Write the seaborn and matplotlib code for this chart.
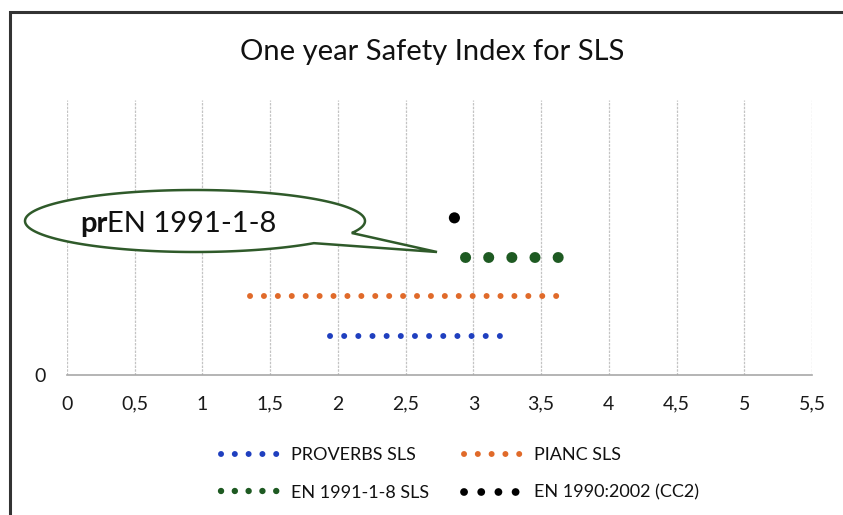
import numpy as np
import pandas as pd
import seaborn as sns
import matplotlib.pyplot as plt
from matplotlib.lines import Line2D
from matplotlib.patches import Polygon, Rectangle

# series (x range of each dotted line, y level)
series = ['PROVERBS SLS', 'PIANC SLS', 'EN 1991-1-8 SLS', 'EN 1990:2002 (CC2)']
x_start = [1.94, 1.35, 2.94, 2.86]
x_end = [3.21, 3.64, 3.63, 2.86]
y_level = [1, 2, 3, 4]
colors = ['#1f3fbf', '#e06a2a', '#1e5a22', '#000000']
xticks = [0, 0.5, 1, 1.5, 2, 2.5, 3, 3.5, 4, 4.5, 5, 5.5]
xtick_labels = ['0', '0,5', '1', '1,5', '2', '2,5', '3', '3,5', '4', '4,5', '5', '5,5']

sns.set_theme(style='white')
plt.rcParams['font.family'] = ['Lato', 'DejaVu Sans']

W, H = 843, 515
fig = plt.figure(figsize=(W / 100, H / 100), dpi=100)
ax = fig.add_axes([67 / W, 1 - 375 / H, (812 - 67) / W, (375 - 100) / H])

# line width (pt) and gap of the round-dot pattern per series
lw = [4.3, 4.3, 7.9, 7.9]
gap = [2.36, 2.32, 2.1, 2.1]

for i, name in enumerate(series[:3]):
    df = pd.DataFrame({'x': [x_start[i], x_end[i]], 'y': [y_level[i]] * 2})
    sns.lineplot(data=df, x='x', y='y', ax=ax, color=colors[i], linewidth=lw[i],
                 linestyle=(0, (0.01, gap[i])), dash_capstyle='round')

blk = pd.DataFrame({'x': [x_start[3]], 'y': [y_level[3]]})
sns.scatterplot(data=blk, x='x', y='y', ax=ax, color='black', s=64, edgecolor='none')

ax.set_xlim(0, 5.5)
ax.set_ylim(0, 7)
ax.set_xticks(xticks)
ax.set_xticklabels(xtick_labels, fontsize=14, color='#1a1a1a')
ax.set_yticks([0])
ax.set_yticklabels(['0'], fontsize=14, color='#1a1a1a')
ax.tick_params(axis='x', length=0, pad=15)
ax.tick_params(axis='y', length=0, pad=15)
ax.set_xlabel('')
ax.set_ylabel('')
ax.grid(axis='x', color='#c4c4c4', linewidth=0.9, linestyle=(0, (2, 1)))
ax.grid(axis='y', visible=False)
for s in ['top', 'right', 'left']:
    ax.spines[s].set_visible(False)
ax.spines['bottom'].set_color('#a8a8a8')
ax.spines['bottom'].set_linewidth(1.2)

fig.text(432 / W, 1 - 52 / H, 'One year Safety Index for SLS', ha='center', va='center',
         fontsize=21, color='#111111')

# legend (row 1: PROVERBS, PIANC; row 2: EN 1991, EN 1990)
leg_lw = [4.3, 4.3, 4.6, 5.6]
leg_gap = [2.3, 2.3, 2.15, 2.2]
handles = [Line2D([0], [0], color=colors[i], linewidth=leg_lw[i],
                  linestyle=(0, (0.01, leg_gap[i])), dash_capstyle='round') for i in range(4)]
order = [0, 2, 1, 3]
leg = fig.legend([handles[i] for i in order], [series[i] for i in order], loc='center',
                 bbox_to_anchor=(460 / W, 1 - 474 / H), ncol=2, frameon=False, fontsize=13,
                 handlelength=3.3, handletextpad=0.6, columnspacing=1.9, labelspacing=1.2)
for t in leg.get_texts():
    t.set_color('#111111')

# speech bubble callout (ellipse with a tail)
green = '#2f5a2a'
cx, cy, a, b = 195, 221, 170, 31
t_lo = np.arctan2((243 - cy) / b, (313 - cx) / a)
t_hi = np.arctan2((233 - cy) / b, (352 - cx) / a) + 2 * np.pi
tt = np.linspace(t_lo, t_hi, 200)
pts = [(cx + a * np.cos(t), cy + b * np.sin(t)) for t in tt] + [(437, 252)]
pts = [(x / W, 1 - y / H) for x, y in pts]
fig.patches.append(Polygon(pts, closed=True, transform=fig.transFigure, facecolor='white',
                           edgecolor=green, linewidth=1.8, zorder=5))

t1 = fig.text(80 / W, 1 - 224 / H, 'pr', fontsize=21, fontweight='bold', color='#111111',
              ha='left', va='center', zorder=8)
fig.canvas.draw()
bb = t1.get_window_extent(renderer=fig.canvas.get_renderer())
fig.text(bb.x1 / W, 1 - 224 / H, 'EN 1991-1-8', fontsize=21, color='#111111',
         ha='left', va='center', zorder=8)

# chart frame
fig.patches.append(Rectangle((10 / W, -0.05), (W + 20) / W, 1.05 - 12 / H,
                             transform=fig.transFigure, fill=False, edgecolor='#333333',
                             linewidth=2.2, zorder=9))

fig.savefig('out.png', dpi=100)
